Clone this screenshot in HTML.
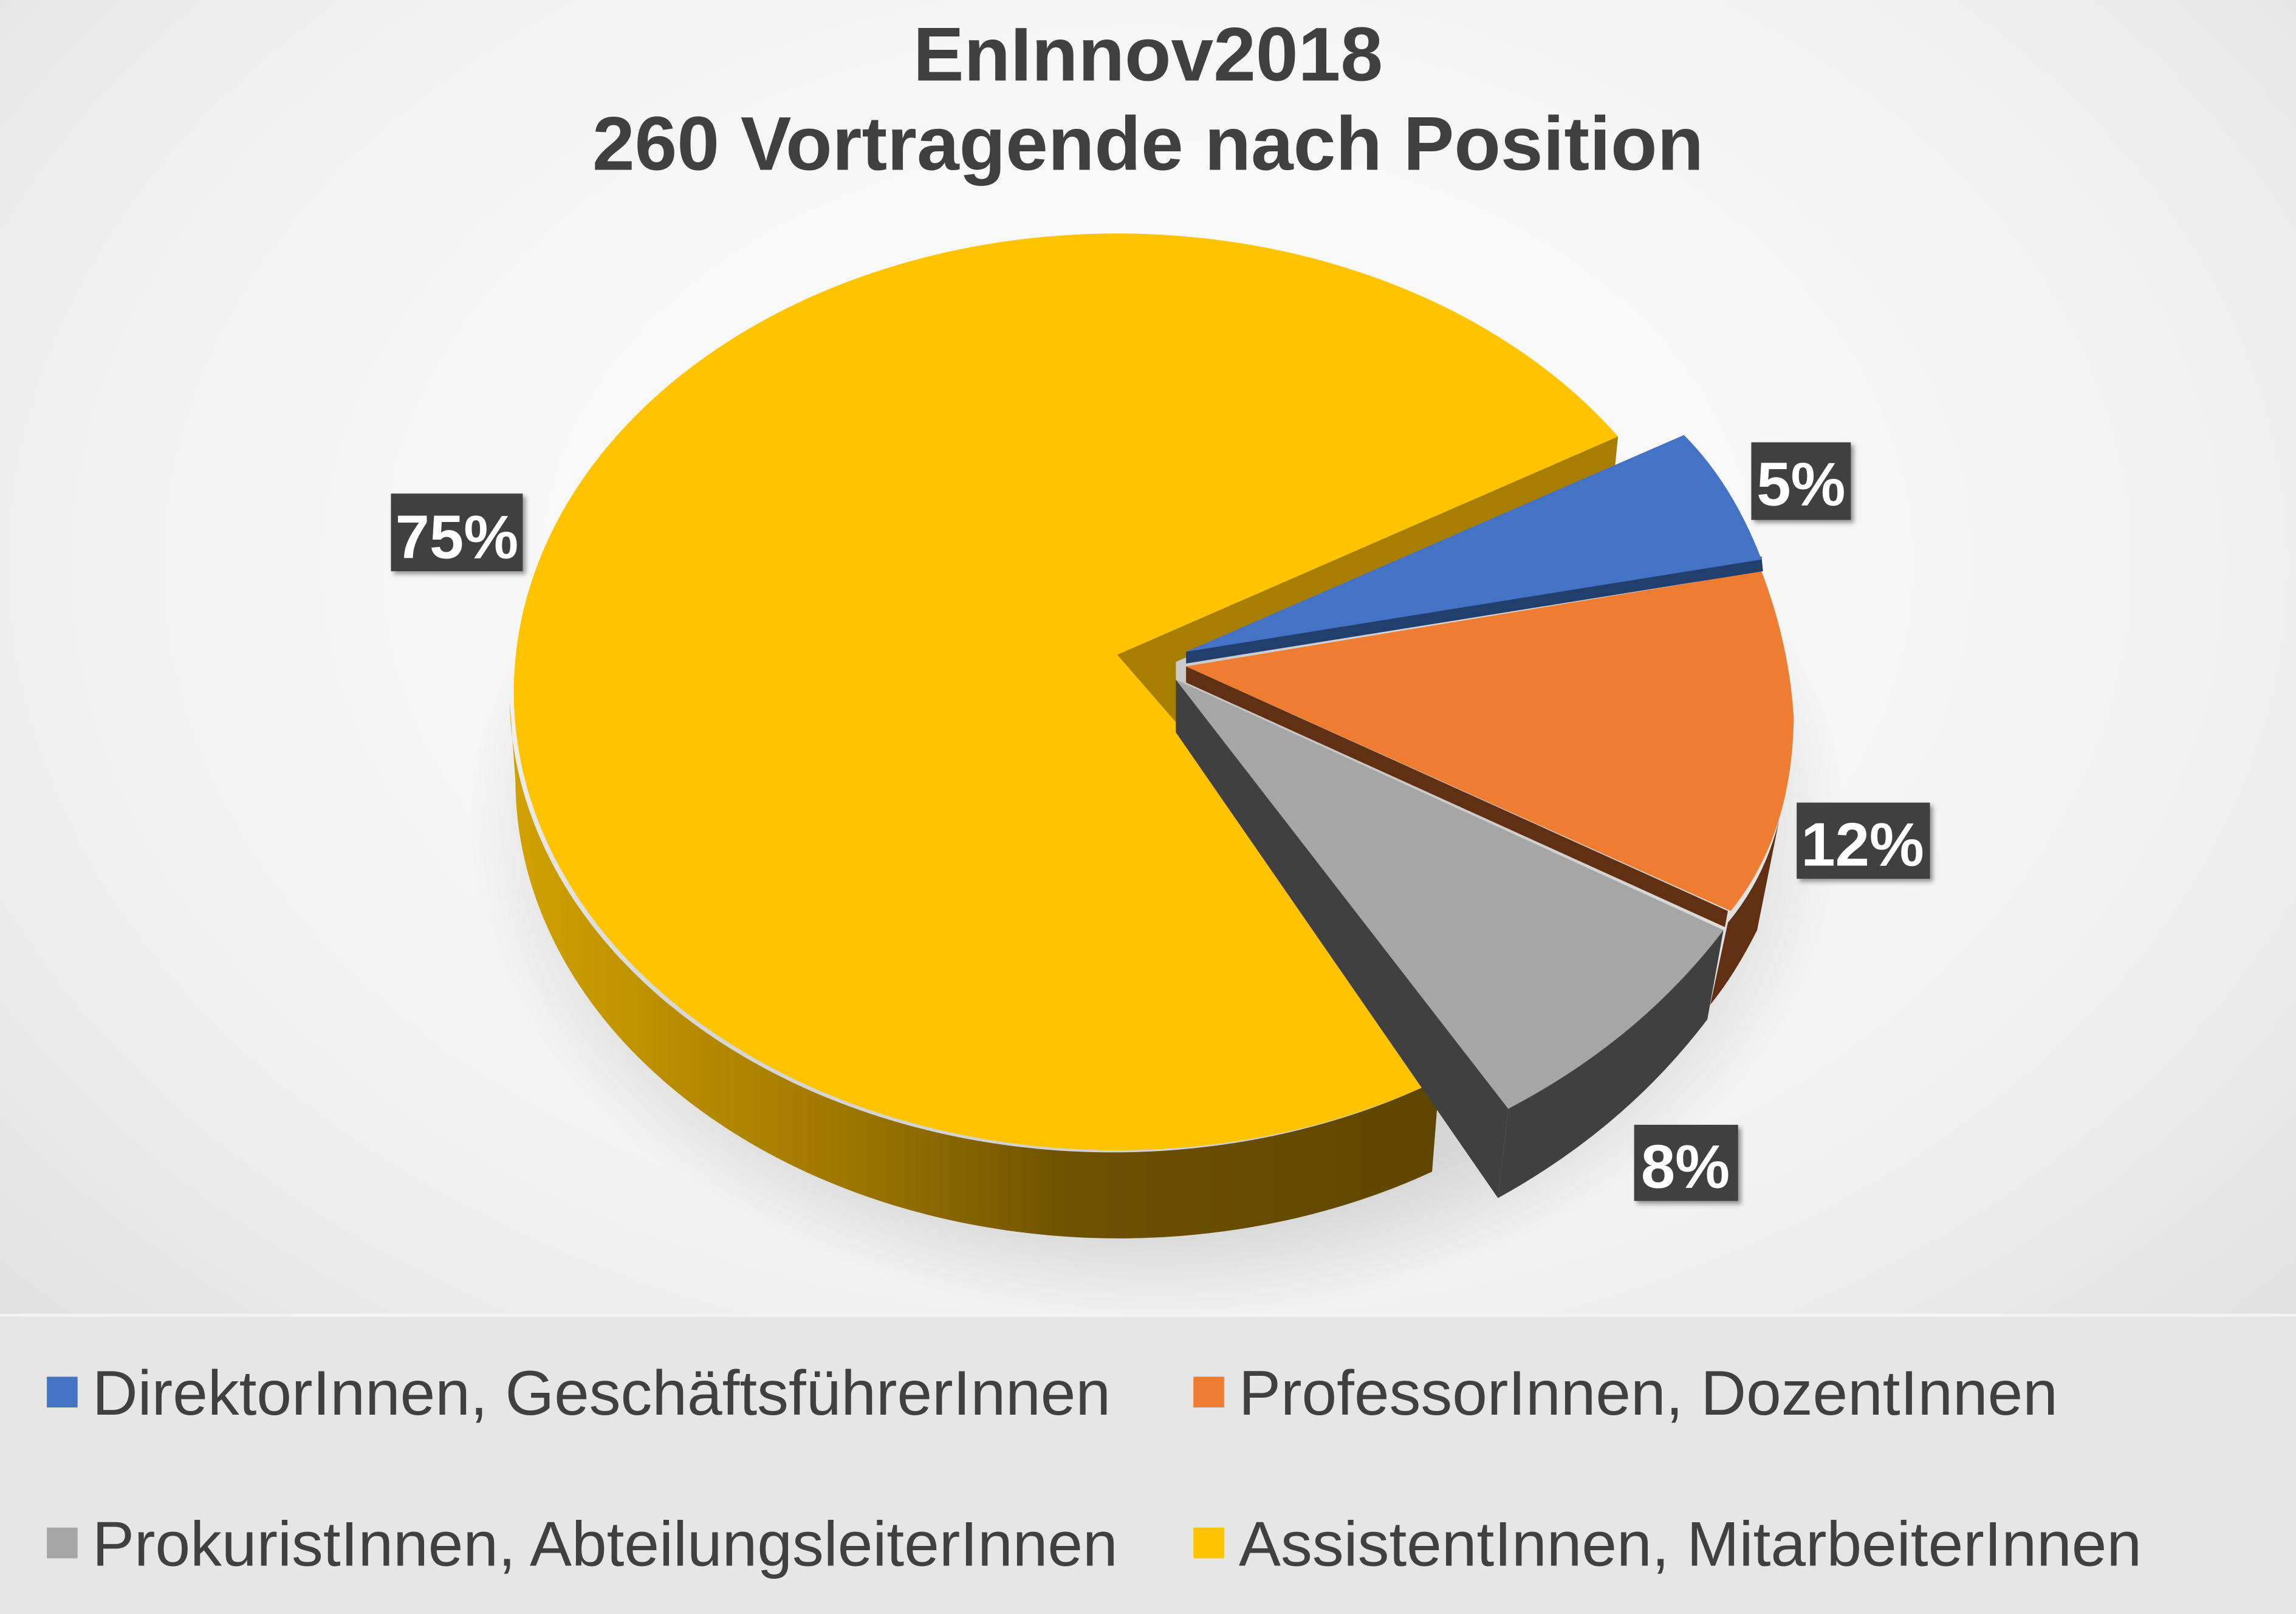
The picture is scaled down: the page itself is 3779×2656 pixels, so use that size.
<!DOCTYPE html>
<html><head><meta charset="utf-8"><style>
html,body{margin:0;padding:0;width:3779px;height:2656px;overflow:hidden;}
svg{display:block;}
text{font-family:"Liberation Sans",Arial,sans-serif;}
</style></head><body>
<svg width="3779" height="2656" viewBox="0 0 1568 1102" xmlns="http://www.w3.org/2000/svg">
<defs>
<radialGradient id="bg" cx="50%" cy="35%" r="75%">
<stop offset="0" stop-color="#ffffff"/><stop offset="0.6" stop-color="#f2f2f2"/><stop offset="1" stop-color="#dcdcdc"/>
</radialGradient>
<linearGradient id="yside" x1="0" y1="0" x2="1" y2="0">
<stop offset="0" stop-color="#d2a200"/><stop offset="0.35" stop-color="#a07800"/><stop offset="0.6" stop-color="#6e5200"/><stop offset="1" stop-color="#5e4600"/>
</linearGradient>
<radialGradient id="shadow" cx="50%" cy="50%" r="50%">
<stop offset="0" stop-color="#000" stop-opacity="0.25"/><stop offset="0.8" stop-color="#000" stop-opacity="0.12"/><stop offset="1" stop-color="#000" stop-opacity="0"/>
</radialGradient>
<filter id="ds" x="-20%" y="-20%" width="150%" height="150%"><feDropShadow dx="2" dy="2" stdDeviation="1.5" flood-opacity="0.4"/></filter>
</defs>
<rect width="1568" height="1102" fill="url(#bg)"/>
<rect y="897" width="1568" height="205" fill="#e6e6e6"/>
<rect y="897" width="1568" height="2" fill="#f4f4f4"/>
<ellipse cx="790" cy="560" rx="470" ry="340" fill="url(#shadow)"/>

<text x="784" y="55" text-anchor="middle" font-size="52" font-weight="bold" fill="#404040">EnInnov2018</text>
<text x="784" y="116" text-anchor="middle" font-size="52" font-weight="bold" fill="#404040">260 Vortragende nach Position</text>

<path d="M348,478 A412,313 0 0 0 983,737 L978,800 A412,313 0 0 1 352,533 Z" fill="url(#yside)"/>
<polygon points="763,447 1105,298 1103,318 803,452 803,493" fill="#a87e00"/>
<path d="M803,493 L763,447 L1105,298 A412,313 0 1 0 983,737 Z" fill="#ffc300"/>
<polygon points="763,447 803,452 803,493" fill="#a87e00"/>

<polygon points="803,464 1030,757 1023,818 803,500" fill="#404040"/>
<path d="M1177,635 Q1120,710 1030,757 L1023,818 Q1110,770 1166,696 Z" fill="#404040"/>
<path d="M803,464 L1177,635 Q1120,710 1030,757 Z" fill="#a6a6a6"/>

<path d="M1180,630 Q1205,600 1215,560 L1200,635 Q1185,665 1168,686 Z" fill="#612f12"/>
<polygon points="810,455 1180,622 1178,633 810,466" fill="#612f12"/>
<path d="M810,455 L1203,390 Q1222,440 1225,490 Q1224,570 1182,622 Z" fill="#ef7d31"/>

<polygon points="810,445 1203,380 1204,390 810,453" fill="#223e6c"/>
<path d="M810,445 L1150,297 Q1183,330 1203,382 Z" fill="#4472c4"/>

<g filter="url(#ds)">
<rect x="267" y="337" width="90" height="53" fill="#404040"/>
<rect x="1196" y="302" width="68" height="53" fill="#404040"/>
<rect x="1227" y="548" width="91" height="52" fill="#404040"/>
<rect x="1116" y="768" width="71" height="52" fill="#404040"/>
</g>
<g font-size="42" font-weight="bold" fill="#fff" text-anchor="middle">
<text x="312" y="381">75%</text>
<text x="1230" y="345">5%</text>
<text x="1272" y="591">12%</text>
<text x="1151" y="811">8%</text>
</g>

<g font-size="43" fill="#404040">
<rect x="32" y="940" width="21" height="21" fill="#4472c4"/>
<text x="63" y="966">DirektorInnen, GeschäftsführerInnen</text>
<rect x="815" y="940" width="21" height="21" fill="#ef7d31"/>
<text x="846" y="966">ProfessorInnen, DozentInnen</text>
<rect x="32" y="1043" width="21" height="21" fill="#a6a6a6"/>
<text x="63" y="1069">ProkuristInnen, AbteilungsleiterInnen</text>
<rect x="815" y="1043" width="21" height="21" fill="#ffc300"/>
<text x="846" y="1069">AssistentInnen, MitarbeiterInnen</text>
</g>
</svg>
</body></html>
